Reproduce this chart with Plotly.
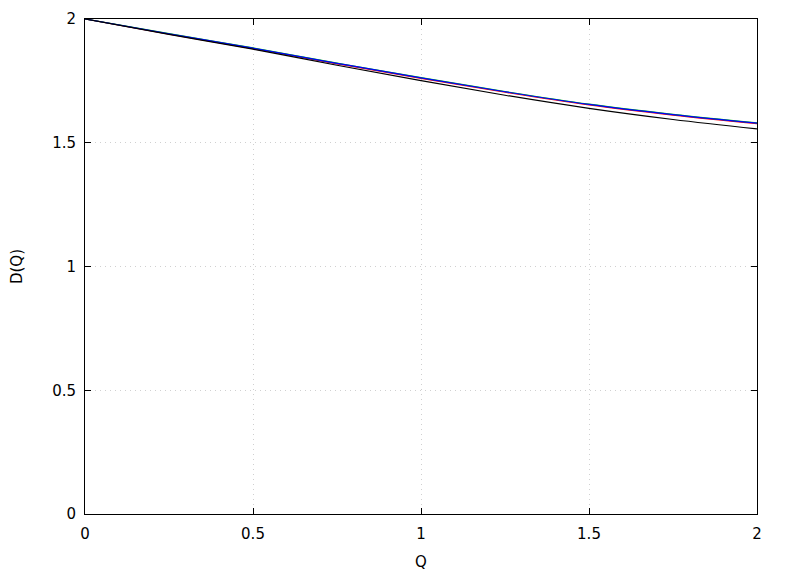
import plotly.graph_objects as go

q = [0.0, 0.25, 0.5, 0.75, 1.0, 1.25, 1.5, 1.75, 2.0]
d_red = [2.0, 1.939, 1.880, 1.819, 1.760, 1.704, 1.653, 1.612, 1.577]
d_green = [2.0, 1.941, 1.883, 1.822, 1.763, 1.707, 1.656, 1.615, 1.580]
d_blue = [2.0, 1.940, 1.882, 1.821, 1.762, 1.706, 1.655, 1.614, 1.579]
d_black = [2.0, 1.938, 1.878, 1.813, 1.751, 1.692, 1.639, 1.594, 1.556]

x_ticks = [0, 0.5, 1, 1.5, 2]
x_ticklabels = ["0", "0.5", "1", "1.5", "2"]
y_ticks = [0, 0.5, 1, 1.5, 2]
y_ticklabels = ["0", "0.5", "1", "1.5", "2"]

fig = go.Figure()
for ys, col in [(d_red, "#ff0000"), (d_green, "#00c000"), (d_blue, "#0000ff"), (d_black, "#000000")]:
    fig.add_trace(go.Scatter(x=q, y=ys, mode="lines", line=dict(color=col, width=1.2, shape="spline"),
                             showlegend=False, hoverinfo="skip"))

axis_common = dict(
    showline=True, linecolor="black", linewidth=1, mirror="ticks",
    ticks="inside", ticklen=6, tickcolor="black", tickwidth=1,
    showgrid=True, gridcolor="#d0d0d0", griddash="1px,4px", gridwidth=1,
    zeroline=False, automargin=False,
    tickfont=dict(family="DejaVu Sans", size=15, color="black"),
)

fig.update_layout(
    width=780, height=568,
    margin=dict(l=77, r=31, t=11, b=62),
    plot_bgcolor="white", paper_bgcolor="white",
    font=dict(family="DejaVu Sans", size=15, color="black"),
    xaxis=dict(range=[0, 2], tickvals=x_ticks, ticktext=x_ticklabels,
               title=dict(text="Q", standoff=14, font=dict(size=15)),
               ticklabelstandoff=6, **axis_common),
    yaxis=dict(range=[0, 2], tickvals=y_ticks, ticktext=y_ticklabels,
               title=dict(text="D(Q)", standoff=28, font=dict(size=15)),
               ticklabelstandoff=5, **axis_common),
)

fig.write_html("out.html")
